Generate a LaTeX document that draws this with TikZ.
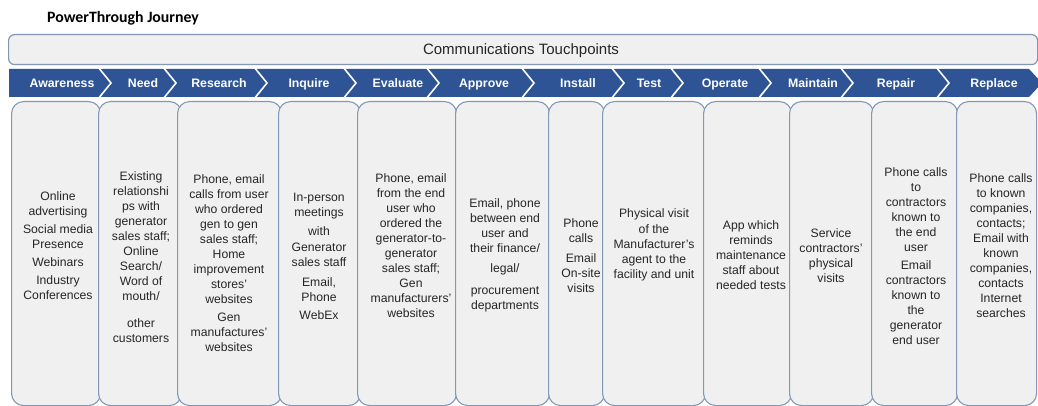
\documentclass[tikz,border=0pt]{standalone}
\usepackage{fontspec}
\setmainfont{Liberation Sans}
\newfontfamily\headfont{Carlito}
\definecolor{barblue}{RGB}{46,84,150}
\definecolor{cardfill}{RGB}{240,240,240}
\definecolor{cardline}{RGB}{132,151,180}
\definecolor{ink}{RGB}{38,38,38}
\begin{document}
\begin{tikzpicture}[x=1pt,y=-1pt,
  header/.style={draw=cardline, fill=cardfill, rounded corners=6pt, line width=1.2pt, inner sep=0},
  stage/.style={font=\bfseries\fontsize{12.3}{14}\selectfont, text=white, inner sep=0, anchor=base},
  card/.style={draw=cardline, fill=cardfill, rounded corners=12pt, line width=1.1pt,
    anchor=north west, minimum height=304, inner sep=0},
  cardtext/.style={align=center, font=\fontsize{12.2}{15}\selectfont, text=ink, inner sep=0},
  sep/.style={draw=white, line width=1.6pt, line join=miter}
]
\useasboundingbox (0,0) rectangle (1038,406);
\fill[white] (0,0) rectangle (1038,406);

% title
\node[anchor=base west, font=\headfont\bfseries\fontsize{15.8}{19}\selectfont, text=black, inner sep=0]
  (title) at (47,23) {PowerThrough Journey};

% touchpoints banner
\node[header, anchor=north west, minimum width=1029, minimum height=30] (touch) at (8,34) {};
\node[font=\fontsize{15}{18}\selectfont, text=ink, inner sep=0, anchor=base] (touchlabel) at (521,54.5) {Communications Touchpoints};

% stage ribbon
\fill[barblue] (9,69) -- (1029,69) -- (1042,83) -- (1029,97) -- (9,97) -- cycle;
\foreach \t in {98,163,254,343,426,521,611,670,758,840,936}
  \draw[sep] (\t,67) -- (\t+13,83) -- (\t,99);

\node[stage] (s1)  at (62,87.4)  {Awareness};
\node[stage] (s2)  at (143,87.4) {Need};
\node[stage] (s3)  at (219,87.4) {Research};
\node[stage] (s4)  at (309,87.4) {Inquire};
\node[stage] (s5)  at (398,87.4) {Evaluate};
\node[stage] (s6)  at (484,87.4) {Approve};
\node[stage] (s7)  at (578,87.4) {Install};
\node[stage] (s8)  at (649,87.4) {Test};
\node[stage] (s9)  at (725,87.4) {Operate};
\node[stage] (s10) at (813,87.4) {Maintain};
\node[stage] (s11) at (896,87.4) {Repair};
\node[stage] (s12) at (994,87.4) {Replace};

% touchpoint cards, each one laid slightly over the one before
\node[card, minimum width=89]  (c1)  at (11,101)  {};
\node[card, minimum width=83]  (c2)  at (98,101)  {};
\node[card, minimum width=104] (c3)  at (177,101) {};
\node[card, minimum width=82]  (c4)  at (278,101) {};
\node[card, minimum width=99]  (c5)  at (357,101) {};
\node[card, minimum width=94]  (c6)  at (455,101) {};
\node[card, minimum width=56]  (c7)  at (548,101) {};
\node[card, minimum width=103] (c8)  at (602,101) {};
\node[card, minimum width=88]  (c9)  at (703,101) {};
\node[card, minimum width=84]  (c10) at (789,101) {};
\node[card, minimum width=86]  (c11) at (871,101) {};
\node[card, minimum width=80]  (c12) at (956,101) {};

% card texts
\node[cardtext] (t1) at (58,246) {Online\\advertising\\[3pt]Social media\\Presence\\[3pt]Webinars\\[3pt]Industry\\Conferences};
\node[cardtext] (t2) at (141,257.5) {Existing\\relationshi\\ps with\\generator\\sales staff;\\Online\\Search/\\Word of\\mouth/\\[12pt]other\\customers};
\node[cardtext] (t3) at (229,263) {Phone, email\\calls from user\\who ordered\\gen to gen\\sales staff;\\Home\\improvement\\stores'\\websites\\[3pt]Gen\\manufactures'\\websites};
\node[cardtext] (t4) at (319,256.5) {In-person\\meetings\\[4pt]with\\[1pt]Generator\\sales staff\\[5pt]Email,\\Phone\\[3pt]WebEx};
\node[cardtext] (t5) at (411,246) {Phone, email\\from the end\\user who\\ordered the\\generator-to-\\generator\\sales staff;\\Gen\\manufacturers'\\websites};
\node[cardtext] (t6) at (505,255.5) {Email, phone\\between end\\user and\\their finance/\\[5pt]legal/\\[7pt]procurement\\departments};
\node[cardtext] (t7) at (581,255.5) {Phone\\calls\\[5pt]Email\\On-site\\visits};
\node[cardtext] (t8) at (654,245) {Physical visit\\[1pt]of the\\Manufacturer's\\agent to the\\facility and unit};
\node[cardtext] (t9) at (751,255) {App which\\reminds\\maintenance\\staff about\\needed tests};
\node[cardtext] (t10) at (831,255.5) {Service\\contractors'\\physical\\visits};
\node[cardtext] (t11) at (916,256) {Phone calls\\to\\contractors\\known to\\the end\\user\\[3pt]Email\\contractors\\known to\\the\\generator\\end user};
\node[cardtext] (t12) at (1001,245.5) {Phone calls\\to known\\companies,\\contacts;\\Email with\\known\\companies,\\contacts\\Internet\\searches};
\end{tikzpicture}
\end{document}
